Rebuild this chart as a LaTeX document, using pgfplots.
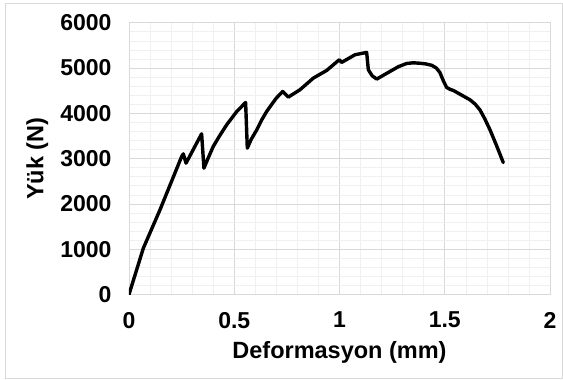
\documentclass[border=0pt]{standalone}
\usepackage{fontspec}
\setmainfont{Liberation Sans}
\usepackage{pgfplots}
\pgfplotsset{compat=1.18}
\definecolor{majgrid}{HTML}{D9D9D9}
\definecolor{mingrid}{HTML}{F0F0F0}
\definecolor{frame}{HTML}{D9D9D9}
\begin{document}
\begin{tikzpicture}[x=1pt,y=1pt]
\useasboundingbox (0,0) rectangle (563,380);
\draw[frame,line width=0.8pt] (5.5,1.5) rectangle (562,377);
\begin{axis}[
  at={(129pt,85.5pt)}, anchor=south west,
  scale only axis, width=421pt, height=271.8pt,
  xmin=0, xmax=2, ymin=0, ymax=6000,
  xtick={0,0.5,1,1.5,2}, ytick={0,1000,...,6000},
  minor x tick num=4, minor y tick num=4,
  grid=both,
  major grid style={majgrid, line width=0.7pt},
  minor grid style={mingrid, line width=0.6pt},
  axis line style={majgrid, line width=0.7pt},
  tick style={draw=none},
  /pgf/number format/assume math mode=true,
  /pgf/number format/set thousands separator={},
  ticklabel style={font=\fontsize{23}{27}\selectfont\bfseries},
  yticklabel style={xshift=-14pt},
  xticklabel style={yshift=-14pt},
  label style={font=\fontsize{23.5}{27}\selectfont\bfseries},
  xlabel={Deformasyon (mm)},
  ylabel={Yük (N)},
  xlabel style={at={([yshift=-64.5pt]axis description cs:0.5,0)}, anchor=base},
  ylabel style={at={([xshift=-85.7pt]axis description cs:0,0.5)}, anchor=base, rotate=0},
]
\addplot[black, line width=3.4pt, line join=round, line cap=round] coordinates {
(0,0)
(0.068,1021)
(0.147,1867)
(0.25,3045)
(0.258,3105)
(0.271,2900)
(0.345,3547)
(0.356,2789)
(0.375,3000)
(0.40,3266)
(0.43,3500)
(0.464,3746)
(0.512,4040)
(0.554,4239)
(0.562,3231)
(0.58,3420)
(0.607,3635)
(0.63,3850)
(0.654,4040)
(0.68,4210)
(0.70,4336)
(0.730,4482)
(0.757,4358)
(0.812,4519)
(0.876,4778)
(0.939,4946)
(0.999,5182)
(1.010,5123)
(1.074,5293)
(1.129,5344)
(1.137,4961)
(1.155,4830)
(1.177,4756)
(1.24,4924)
(1.28,5030)
(1.319,5100)
(1.35,5115)
(1.382,5105)
(1.41,5090)
(1.438,5060)
(1.46,5000)
(1.477,4900)
(1.495,4700)
(1.509,4570)
(1.525,4530)
(1.541,4504)
(1.62,4298)
(1.645,4200)
(1.667,4077)
(1.69,3880)
(1.715,3635)
(1.745,3300)
(1.778,2913)
};
\end{axis}
\end{tikzpicture}
\end{document}
